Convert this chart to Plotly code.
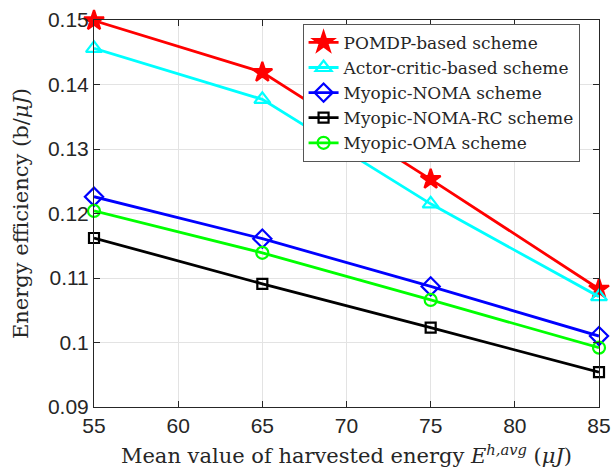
import plotly.graph_objects as go

# Mean harvested energy (uJ)
harvest = [55, 65, 75, 85]

# Energy efficiency (b/uJ) per scheme
pomdp = [0.1499, 0.1419, 0.1253, 0.1083]
actor_critic = [0.1456, 0.1377, 0.1215, 0.1071]
myopic_noma = [0.1226, 0.1161, 0.1087, 0.1010]
myopic_noma_rc = [0.1162, 0.1091, 0.1023, 0.0954]
myopic_oma = [0.1204, 0.1139, 0.1066, 0.0992]

x_ticks = [55, 60, 65, 70, 75, 80, 85]
y_ticks = [0.09, 0.10, 0.11, 0.12, 0.13, 0.14, 0.15]
y_tick_text = ["0.09", "0.1", "0.11", "0.12", "0.13", "0.14", "0.15"]

series = [
    ("POMDP-based scheme", pomdp, "#ff0000", "star", 15),
    ("Actor-critic-based scheme", actor_critic, "#00ffff", "triangle-up-open", 14),
    ("Myopic-NOMA scheme", myopic_noma, "#0000ff", "diamond-open", 14),
    ("Myopic-NOMA-RC scheme", myopic_noma_rc, "#000000", "square-open", 10),
    ("Myopic-OMA scheme", myopic_oma, "#00ff00", "circle-open", 12),
]

fig = go.Figure()
for name, vals, color, symbol, size in series:
    fig.add_trace(go.Scatter(
        x=harvest, y=vals, name=name, mode="lines+markers",
        line=dict(color=color, width=2.8),
        marker=dict(symbol=symbol, size=size, color=color,
                    line=dict(color=color, width=2.2)),
        cliponaxis=False,
    ))

axis_common = dict(
    showline=True, linecolor="#262626", linewidth=1, mirror="ticks",
    ticks="inside", ticklen=6, tickcolor="#262626", tickwidth=1,
    showgrid=True, gridcolor="#e3e3e3", gridwidth=1, zeroline=False,
    ticklabeloverflow="allow", automargin=False,
    tickfont=dict(family="Liberation Sans, Arial, sans-serif", size=21, color="#262626"),
)

title_font = dict(family="DejaVu Serif, serif", size=21, color="#262626")

fig.update_xaxes(
    range=[55, 85], tickvals=x_ticks,
    title=dict(text="Mean value of harvested energy <i>E</i><sup><i>h,avg</i></sup> (<i>μJ</i>)",
               font=title_font, standoff=12),
    **axis_common,
)
fig.update_yaxes(
    range=[0.09, 0.15], tickvals=y_ticks, ticktext=y_tick_text,
    title=dict(text="Energy efficiency (b/<i>μJ</i>)", font=title_font, standoff=13),
    **axis_common,
)

fig.update_layout(
    width=611, height=475,
    margin=dict(l=94, r=12, t=20, b=68),
    plot_bgcolor="white", paper_bgcolor="white",
    legend=dict(
        x=0.413, y=0.99, xanchor="left", yanchor="top",
        bgcolor="white", bordercolor="#555555", borderwidth=1,
        font=dict(family="DejaVu Serif, serif", size=17, color="#262626"),
        tracegroupgap=0, itemwidth=30,
    ),
)

fig.write_html("out.html")
